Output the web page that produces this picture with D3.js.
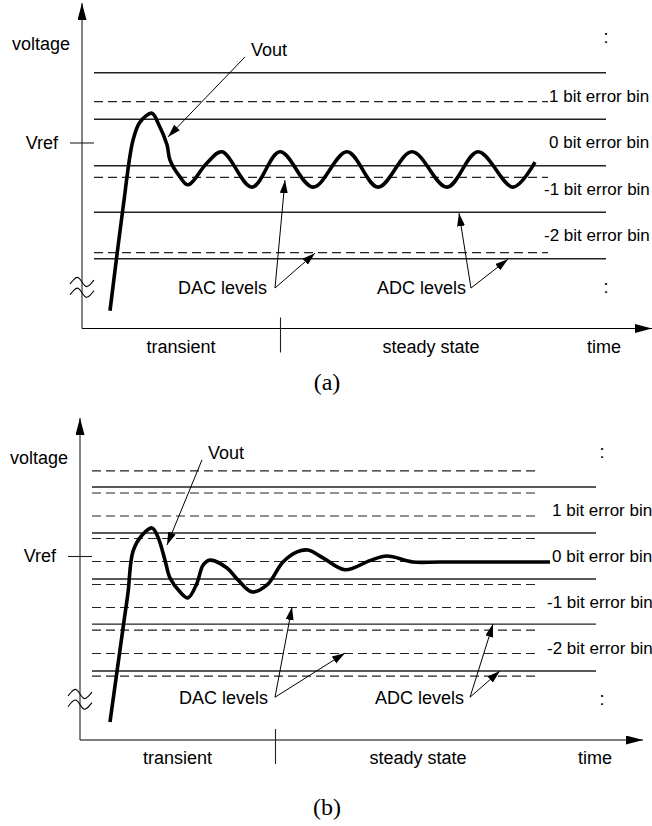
<!DOCTYPE html>
<html>
<head>
<meta charset="utf-8">
<script src="https://cdn.jsdelivr.net/npm/d3@7/dist/d3.min.js"></script>
<style>
    body { margin: 0; background: #fff; }
    svg text { font-family: "Liberation Sans", Arial, sans-serif; font-size: 18px; fill: #000; }
    svg text.bin { font-size: 17px; }
    svg text.cap { font-family: "Liberation Serif", "Times New Roman", serif; font-size: 24px; }
</style>
</head>
<body>
<div class="graphic"></div>
<script>
// ---- panel (a): DAC resolution coarser than ADC, limit cycle ----
var adcLevelsA = [1.5, 0.5, -0.5, -1.5, -2.5];
var dacLevelsA = [0.88, -0.75, -2.37];
var voutA = [
    [2.8, -3.62], [4.1, -1.41], [5.1, 0.05], [5.8, 0.44], [7.0, 0.63],
    [7.6, 0.42], [8.5, -0.05], [8.8, -0.38], [9.8, -0.74], [10.6, -0.91],
    [12.5, -0.44], [14.0, -0.2], [17.0, -0.96], [19.8, -0.2], [23.1, -0.96],
    [26.5, -0.2], [29.6, -0.96], [33.0, -0.2], [36.5, -0.96], [39.6, -0.2],
    [43.1, -0.96], [45.3, -0.42]
];

// ---- panel (b): DAC resolution finer than ADC, settles ----
var adcLevelsB = [1.5, 0.5, -0.5, -1.48, -2.5];
var dacLevelsB = [1.85, 1.37, 0.87, 0.38, -0.12, -0.62, -1.12, -1.61, -2.12, -2.61];
var voutB = [
    [3.0, -3.61], [4.3, -1.57], [4.8, -0.8], [5.3, 0.1], [6.2, 0.45],
    [7.2, 0.61], [7.8, 0.41], [8.5, -0.09], [9.0, -0.48], [10.0, -0.78],
    [10.8, -0.91], [11.7, -0.59], [12.3, -0.2], [13.0, -0.09], [14.7, -0.26],
    [15.8, -0.52], [17.2, -0.78], [18.7, -0.63], [20.3, -0.13], [21.7, 0.09],
    [22.8, 0.13], [24.3, -0.04], [26.5, -0.3], [29.0, -0.1],
    [30.7, 0.0], [33.3, -0.13], [36.0, -0.13], [47.0, -0.13]
];

var bins = [1, 0, -1, -2];
var binLabels = ["1 bit error bin", "0 bit error bin", "-1 bit error bin", "-2 bit error bin"];
var phaseLabels = ["transient", "steady state"];

var W = 652, H = 826;

var svg = d3.select(".graphic").append("svg")
    .attr("width", W)
    .attr("height", H);

var defs = svg.append("defs");
defs.append("marker")
    .attr("id", "head")
    .attr("markerUnits", "userSpaceOnUse")
    .attr("markerWidth", 14).attr("markerHeight", 9)
    .attr("refX", 13).attr("refY", 4)
    .attr("orient", "auto")
    .append("path").attr("d", "M0,0L13,4L0,8Z").attr("fill", "#000");
defs.append("marker")
    .attr("id", "axhead")
    .attr("markerUnits", "userSpaceOnUse")
    .attr("markerWidth", 18).attr("markerHeight", 10)
    .attr("refX", 17).attr("refY", 4.5)
    .attr("orient", "auto")
    .append("path").attr("d", "M0,0L17,4.5L0,9Z").attr("fill", "#000");

function drawPanel(p) {
    var x = d3.scaleLinear().domain(p.xDomain).range(p.xRange);
    var y = d3.scaleLinear().domain([-4, 3]).range(p.yRange);
    var g = svg.append("g");
    var x0 = x(0), y0 = y(-4);

    // DAC levels (dashed)
    g.append("g").selectAll("line")
        .data(p.dac)
        .join("line")
        .attr("x1", x(1.2)).attr("x2", x(p.dashEnd))
        .attr("y1", d => y(d)).attr("y2", d => y(d))
        .attr("stroke", "#222").attr("stroke-width", 1.2)
        .attr("stroke-dasharray", "9,5");

    // ADC levels (solid)
    g.append("g").selectAll("line")
        .data(p.adc)
        .join("line")
        .attr("x1", x(1.2)).attr("x2", x(p.solidEnd))
        .attr("y1", d => y(d)).attr("y2", d => y(d))
        .attr("stroke", "#222").attr("stroke-width", 1.3);

    // error bin labels
    g.append("g").selectAll("text")
        .data(bins)
        .join("text")
        .attr("class", "bin")
        .attr("x", x(p.binX))
        .attr("dx", d => d < 0 ? -5 : 0)
        .attr("y", d => y(d))
        .attr("dy", "0.35em")
        .text((d, i) => binLabels[i]);

    // dots meaning "more levels"
    g.append("g").selectAll("text")
        .data([2.27, -3.1])
        .join("text")
        .attr("x", x(p.dotsX)).attr("y", d => y(d)).attr("dy", "0.35em")
        .attr("text-anchor", "middle")
        .text(":");

    // y axis with Vref tick
    g.append("line")
        .attr("x1", x0).attr("x2", x0)
        .attr("y1", y0).attr("y2", y(3))
        .attr("stroke", "#333").attr("stroke-width", 1.2)
        .attr("marker-end", "url(#axhead)");
    var ya = g.append("g")
        .attr("transform", `translate(${x0 + 12},0)`)
        .call(d3.axisLeft(y).tickValues([0]).tickSize(24).tickPadding(12).tickFormat(() => "Vref"));
    ya.select(".domain").remove();
    ya.selectAll("line").attr("stroke", "#222").attr("stroke-width", 1.1);
    ya.selectAll("text").attr("font-size", null).attr("font-family", null);

    g.append("text")
        .attr("x", x0 - 12).attr("y", y(2.13)).attr("dy", "0.35em")
        .attr("text-anchor", "end")
        .text("voltage");

    // axis break
    var tilde = d3.line().curve(d3.curveBasis);
    [0.0, -0.23].forEach(function (v) {
        var cy = y(-3.0 + v);
        var pts = [[-12, 2], [-8, -3], [-4, -6], [0, 0], [4, 6], [8, 3], [12, -2]]
            .map(d => [x0 + d[0], cy + d[1]]);
        g.append("path").attr("d", tilde(pts))
            .attr("fill", "none").attr("stroke", "#000").attr("stroke-width", 1.1);
    });

    // time axis with transient / steady state divider
    g.append("line")
        .attr("x1", x0).attr("x2", x.range()[1])
        .attr("y1", y0).attr("y2", y0)
        .attr("stroke", "#000").attr("stroke-width", 1.2)
        .attr("marker-end", "url(#axhead)");
    var xa = g.append("g")
        .attr("transform", `translate(0,${y0 - 11})`)
        .call(d3.axisBottom(x).tickValues([p.divider]).tickSize(35).tickFormat(""));
    xa.select(".domain").remove();
    xa.selectAll("line").attr("stroke", "#222").attr("stroke-width", 1.1);

    g.append("g").selectAll("text")
        .data(phaseLabels)
        .join("text")
        .attr("x", (d, i) => i == 0 ? x(p.divider / 2) : x((p.divider + p.steadyEnd) / 2))
        .attr("y", y0 + 18).attr("dy", "0.35em")
        .attr("text-anchor", "middle")
        .text(d => d);
    g.append("text")
        .attr("x", x(p.timeX)).attr("y", y0 + 18).attr("dy", "0.35em")
        .attr("text-anchor", "middle")
        .text("time");

    // Vout waveform
    var line = d3.line()
        .x(d => x(d[0]))
        .y(d => y(d[1]))
        .curve(d3.curveCatmullRom.alpha(0.5));
    g.append("path")
        .datum(p.vout)
        .attr("d", line)
        .attr("fill", "none")
        .attr("stroke", "#000")
        .attr("stroke-width", 3.6)
        .attr("stroke-linejoin", "round");

    // annotations
    g.append("text")
        .attr("x", x(p.voutLabel[0])).attr("y", y(p.voutLabel[1])).attr("dy", "0.35em")
        .text("Vout");
    g.append("line")
        .attr("x1", x(p.voutArrow[0][0])).attr("y1", y(p.voutArrow[0][1]))
        .attr("x2", x(p.voutArrow[1][0])).attr("y2", y(p.voutArrow[1][1]))
        .attr("stroke", "#000").attr("stroke-width", 1)
        .attr("marker-end", "url(#head)");

    [["DAC levels", p.dacNote], ["ADC levels", p.adcNote]].forEach(function (n) {
        var note = n[1];
        g.append("text")
            .attr("x", x(note.textEnd)).attr("y", y(note.from[1])).attr("dy", "0.35em")
            .attr("text-anchor", "end")
            .text(n[0]);
        note.to.forEach(function (t) {
            g.append("line")
                .attr("x1", x(note.from[0])).attr("y1", y(note.from[1]))
                .attr("x2", x(t[0])).attr("y2", y(t[1]))
                .attr("stroke", "#000").attr("stroke-width", 1)
                .attr("marker-end", "url(#head)");
        });
    });

    svg.append("text")
        .attr("class", "cap")
        .attr("x", 327).attr("y", p.capY)
        .attr("text-anchor", "middle")
        .text(p.caption);
}

drawPanel({
    xDomain: [0, 57], xRange: [82, 652], yRange: [328.5, 3],
    adc: adcLevelsA, dac: dacLevelsA, vout: voutA,
    solidEnd: 52.4, dashEnd: 46.6, binX: 46.7, dotsX: 52.4,
    divider: 19.8, steadyEnd: 50, timeX: 52.2,
    voutLabel: [16.9, 1.99], voutArrow: [[16.3, 1.84], [8.6, 0.12]],
    dacNote: { textEnd: 18.5, from: [19.3, -3.13], to: [[20.3, -0.81], [23.3, -2.38]] },
    adcNote: { textEnd: 38.4, from: [38.9, -3.13], to: [[37.7, -1.52], [42.6, -2.51]] },
    caption: "(a)", capY: 390
});

drawPanel({
    xDomain: [0, 56.3], xRange: [80, 643], yRange: [740, 418],
    adc: adcLevelsB, dac: dacLevelsB, vout: voutB,
    solidEnd: 51.6, dashEnd: 45.8, binX: 47.2, dotsX: 52.2,
    divider: 19.5, steadyEnd: 48.1, timeX: 51.5,
    voutLabel: [12.8, 2.24], voutArrow: [[12.2, 2.09], [8.7, 0.24]],
    dacNote: { textEnd: 18.8, from: [19.5, -3.07], to: [[21.2, -1.11], [26.5, -2.11]] },
    adcNote: { textEnd: 38.4, from: [39.0, -3.07], to: [[41.3, -1.48], [42.0, -2.5]] },
    caption: "(b)", capY: 815
});
</script>
</body>
</html>
